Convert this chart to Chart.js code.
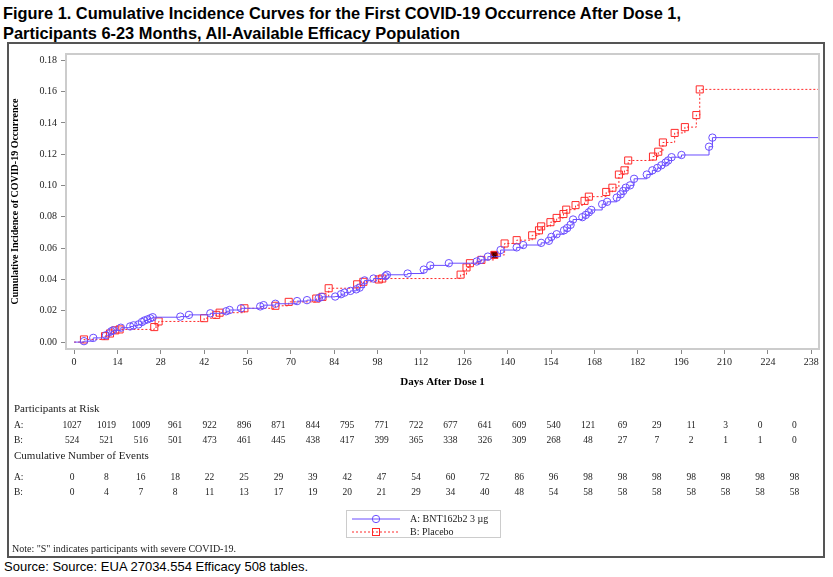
<!DOCTYPE html>
<html lang="en">

<head>
    <meta charset="UTF-8">
    <title>Figure 1. Cumulative Incidence Curves</title>
    <script src="https://cdn.jsdelivr.net/npm/chart.js"></script>
    <style>
        body { margin: 0; background: #fff; width: 833px; height: 577px; position: relative; overflow: hidden; }
        .titulo { position: absolute; left: 3px; top: 3px; font: bold 16.4px "Liberation Sans", Arial, sans-serif; line-height: 20px; color: #000; }
        .caixa { position: absolute; left: 7px; top: 42px; width: 814px; height: 512px; border: 2px solid #555; }
        .fonte { position: absolute; left: 4px; top: 559px; font: 13px "Liberation Sans", Arial, sans-serif; color: #000; }
    </style>
</head>

<body>
    <div class="titulo">Figure 1. Cumulative Incidence Curves for the First COVID-19 Occurrence After Dose 1,<br>Participants 6-23 Months, All-Available Efficacy Population</div>
    <div class="caixa"><canvas id="kmChart" width="814" height="512"></canvas></div>
    <div class="fonte">Source: Source: EUA 27034.554 Efficacy 508 tables.</div>

    <script>
        // eixo
        const xTicks = [0, 14, 28, 42, 56, 70, 84, 98, 112, 126, 140, 154, 168, 182, 196, 210, 224, 238];
        const yTicks = [0, 0.02, 0.04, 0.06, 0.08, 0.10, 0.12, 0.14, 0.16, 0.18];

        // A: BNT162b2 3 ug - dias e incidencia acumulada
        const aDays = [3.2, 6.2, 10.3, 12.0, 12.6, 15.1, 18.1, 19.2, 20.8, 21.9, 22.7, 23.7, 24.6, 25.4, 34.3,
            37.1, 44.0, 49.1, 50.2, 53.9, 60.1, 61.2, 65.0, 72.0, 75.2, 79.0, 80.0, 84.3, 86.2, 87.3,
            89.2, 91.1, 92.2, 93.8, 96.7, 100.5, 101.0, 107.7, 112.9, 115.0, 121.0, 130.0, 131.3, 133.6, 137.7,
            142.9, 145.0, 150.8, 153.3, 154.1, 155.8, 158.2, 159.2, 160.3, 161.1, 164.1, 165.2, 166.2, 167.0, 170.5,
            172.1, 175.2, 176.5, 177.3, 178.1, 179.5, 180.8, 184.9, 186.7, 188.3, 189.6, 191.0, 191.8, 192.9, 196.1,
            205.0, 206.1];
        const aVals = [0.0006, 0.0027, 0.0044, 0.0069, 0.0075, 0.0092, 0.0100, 0.0107, 0.0113, 0.0128, 0.0138, 0.0145, 0.0152, 0.0159, 0.0163,
            0.0174, 0.0184, 0.0197, 0.0205, 0.0216, 0.0228, 0.0236, 0.0245, 0.0262, 0.0268, 0.0281, 0.0289, 0.0291, 0.0306, 0.0316,
            0.0327, 0.0337, 0.0348, 0.0394, 0.0406, 0.0421, 0.0430, 0.0438, 0.0463, 0.0490, 0.0504, 0.0515, 0.0525, 0.0546, 0.0588,
            0.0605, 0.0620, 0.0634, 0.0647, 0.0672, 0.0689, 0.0714, 0.0728, 0.0749, 0.0783, 0.0798, 0.0812, 0.0829, 0.0844, 0.0881,
            0.0896, 0.0923, 0.0944, 0.0965, 0.0986, 0.1001, 0.1043, 0.1070, 0.1097, 0.1112, 0.1129, 0.1147, 0.1160, 0.1181, 0.1195,
            0.1248, 0.1306];

        // B: Placebo
        const bDays = [3.2, 10.0, 11.6, 13.3, 14.7, 25.9, 27.3, 42.0, 45.9, 47.0, 55.0, 65.0, 69.3, 78.2, 80.2,
            82.2, 91.4, 93.4, 98.4, 99.5, 124.8, 126.7, 127.8, 131.5, 135.7, 139.0, 142.9, 147.9, 150.1, 150.8,
            153.8, 155.8, 158.0, 158.9, 161.9, 164.8, 166.2, 171.8, 173.8, 175.9, 177.7, 178.9, 186.9, 188.6, 190.1,
            193.9, 197.2, 200.9, 202.0];
        const bVals = [0.0017, 0.0038, 0.0055, 0.0075, 0.0081, 0.0096, 0.0132, 0.0153, 0.0174, 0.0188, 0.0216, 0.0232, 0.0257, 0.0278, 0.0289,
            0.0344, 0.0369, 0.0385, 0.0400, 0.0406, 0.0431, 0.0477, 0.0504, 0.0525, 0.0557, 0.0630, 0.0651, 0.0682, 0.0714, 0.0739,
            0.0766, 0.0793, 0.0818, 0.0846, 0.0875, 0.0902, 0.0929, 0.0959, 0.0986, 0.1070, 0.1097, 0.1160, 0.1185, 0.1216, 0.1275,
            0.1336, 0.1373, 0.1450, 0.1614];
        const bSevere = [135.7];

        // tabela abaixo do grafico
        const riskA = [1027, 1019, 1009, 961, 922, 896, 871, 844, 795, 771, 722, 677, 641, 609, 540, 121, 69, 29, 11, 3, 0, 0];
        const riskB = [524, 521, 516, 501, 473, 461, 445, 438, 417, 399, 365, 338, 326, 309, 268, 48, 27, 7, 2, 1, 1, 0];
        const eventsA = [0, 8, 16, 18, 22, 25, 29, 39, 42, 47, 54, 60, 72, 86, 96, 98, 98, 98, 98, 98, 98, 98];
        const eventsB = [0, 4, 7, 8, 11, 13, 17, 19, 20, 21, 29, 34, 40, 48, 54, 58, 58, 58, 58, 58, 58, 58];

        const xMin = -2.6, xMax = 240.5;
        const serif = '"Liberation Serif", "Times New Roman", serif';
        const corA = '#6a4dff';
        const corB = '#ff2a2a';

        function montarPontos(days, vals) {
            const pts = [{ x: 0, y: 0 }];
            days.forEach((d, i) => pts.push({ x: d, y: vals[i] }));
            pts.push({ x: xMax, y: vals[vals.length - 1] });
            return pts;
        }
        const ptsA = montarPontos(aDays, aVals);
        const ptsB = montarPontos(bDays, bVals);

        function raio(r) {
            return ctx => (ctx.dataIndex === 0 || ctx.dataIndex === ctx.dataset.data.length - 1) ? 0 : r;
        }

        // desenha moldura, tabela, legenda e nota
        const extras = {
            id: 'extras',
            afterDraw(chart) {
                const c = chart.ctx;
                const a = chart.chartArea;
                c.save();
                c.strokeStyle = '#cccccc';
                c.lineWidth = 2;
                c.strokeRect(a.left, a.top, a.right - a.left, a.bottom - a.top);

                // "S" no marcador de caso grave
                c.fillStyle = '#000';
                c.font = 'bold 6px ' + serif;
                c.textAlign = 'center';
                c.textBaseline = 'middle';
                bSevere.forEach(d => {
                    const i = bDays.indexOf(d);
                    c.fillText('S', chart.scales.x.getPixelForValue(d), chart.scales.y.getPixelForValue(bVals[i]) + 0.5);
                });

                c.fillStyle = '#222';
                c.font = '11px ' + serif;
                c.textAlign = 'left';
                c.fillText('Participants at Risk', 5, 365);
                c.fillText('Cumulative Number of Events', 5, 412);
                c.font = '9.5px ' + serif;
                const linhas = [['A:', riskA, 381], ['B:', riskB, 396], ['A:', eventsA, 433], ['B:', eventsB, 448]];
                const x0 = 63, passo = 34.4;
                linhas.forEach(([rot, vals, y]) => {
                    c.textAlign = 'left';
                    c.fillText(rot, 5, y);
                    c.textAlign = 'center';
                    vals.forEach((v, i) => c.fillText(String(v), x0 + i * passo, y));
                });

                // legenda
                c.strokeStyle = '#cccccc';
                c.lineWidth = 1;
                c.strokeRect(337.5, 466.5, 154, 27);
                c.strokeStyle = corA;
                c.beginPath(); c.moveTo(343, 475); c.lineTo(391, 475); c.stroke();
                c.beginPath(); c.arc(367, 475, 3.7, 0, Math.PI * 2); c.stroke();
                c.strokeStyle = corB;
                c.setLineDash([2, 2]);
                c.beginPath(); c.moveTo(343, 488); c.lineTo(391, 488); c.stroke();
                c.setLineDash([]);
                c.strokeRect(363.5, 484.5, 7, 7);
                c.fillStyle = '#222';
                c.textAlign = 'left';
                c.font = '10px ' + serif;
                c.fillText('A: BNT162b2 3 \u00b5g', 401, 475);
                c.fillText('B: Placebo', 401, 488);

                c.fillText('Note: "S" indicates participants with severe COVID-19.', 3, 505);
                c.restore();
            }
        };

        new Chart(document.getElementById('kmChart'), {
            type: 'scatter',
            data: {
                datasets: [{
                    label: 'A: BNT162b2 3 \u00b5g',
                    data: ptsA,
                    showLine: true,
                    stepped: true,
                    borderColor: corA,
                    borderWidth: 1,
                    pointStyle: 'circle',
                    pointRadius: raio(3.7),
                    pointBorderColor: corA,
                    pointBackgroundColor: 'rgba(0,0,0,0)',
                    pointBorderWidth: 1
                }, {
                    label: 'B: Placebo',
                    data: ptsB,
                    showLine: true,
                    stepped: true,
                    borderColor: corB,
                    borderWidth: 1,
                    borderDash: [2, 2],
                    pointStyle: 'rect',
                    pointRadius: raio(5),
                    pointBorderColor: corB,
                    pointBackgroundColor: ctx => (ctx.raw && bSevere.includes(ctx.raw.x)) ? '#8b0000' : 'rgba(0,0,0,0)',
                    pointBorderWidth: 1
                }]
            },
            options: {
                responsive: false,
                animation: false,
                layout: { padding: { left: 0, top: 5, right: 4, bottom: 167 } },
                plugins: {
                    legend: { display: false },
                    tooltip: { enabled: false }
                },
                scales: {
                    x: {
                        type: 'linear',
                        min: xMin,
                        max: xMax,
                        afterBuildTicks: s => { s.ticks = xTicks.map(v => ({ value: v })); },
                        afterFit: s => { s.height = 40; },
                        grid: { display: true, drawOnChartArea: false, drawTicks: true, tickLength: 5, color: '#888' },
                        border: { display: false },
                        ticks: { color: '#222', font: { family: serif, size: 10 }, padding: 2, maxRotation: 0, autoSkip: false },
                        title: { display: true, text: 'Days After Dose 1', color: '#000', font: { family: serif, size: 11, weight: 'bold' }, padding: { top: 3, bottom: 0 } }
                    },
                    y: {
                        min: -0.0044,
                        max: 0.1840,
                        afterBuildTicks: s => { s.ticks = yTicks.map(v => ({ value: v })); },
                        afterFit: s => { s.width = 57; },
                        grid: { display: true, drawOnChartArea: false, drawTicks: true, tickLength: 5, color: '#888' },
                        border: { display: false },
                        ticks: { color: '#222', font: { family: serif, size: 10 }, padding: 4, callback: v => v.toFixed(2) },
                        title: { display: true, text: 'Cumulative Incidence of COVID-19 Occurrence', color: '#000', font: { family: serif, size: 10, weight: 'bold' }, padding: 0 }
                    }
                }
            },
            plugins: [extras]
        });
    </script>
</body>

</html>
